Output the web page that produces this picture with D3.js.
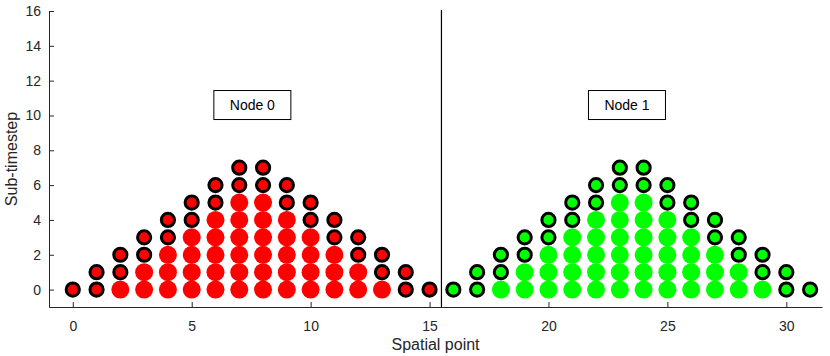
<!DOCTYPE html>
<html>
<head>
<meta charset="utf-8">
<script src="https://cdn.jsdelivr.net/npm/d3@7"></script>
<style>
  body { margin: 0; background: #fff; }
  svg { display: block; font-family: "Liberation Sans", Arial, sans-serif; }
</style>
</head>
<body>
<div id="chart"></div>
<script>
// spatial points per node and the highest sub-timestep reached at each
const node0Points = [0, 1, 2, 3, 4, 5, 6, 7, 8, 9, 10, 11, 12, 13, 14, 15];
const node0Heights = [0, 1, 2, 3, 4, 5, 6, 7, 7, 6, 5, 4, 3, 2, 1, 0];
const node1Points = [16, 17, 18, 19, 20, 21, 22, 23, 24, 25, 26, 27, 28, 29, 30, 31];
const node1Heights = [0, 1, 2, 3, 4, 5, 6, 7, 7, 6, 5, 4, 3, 2, 1, 0];
const nodeLabels = ['Node 0', 'Node 1'];
const nodeLabelX = [7.55, 23.3];
const nodeLabelY = [10.6, 10.6];
const nodeColors = ['#ff0000', '#00ff00'];
const xTicks = [0, 5, 10, 15, 20, 25, 30];
const yTicks = [0, 2, 4, 6, 8, 10, 12, 14, 16];
const nodeBoundary = 15.5;

function drawChart() {
    const width = 830, height = 356;
    const margin = { top: 11, right: 8, bottom: 49, left: 49 };

    const svg = d3.select('#chart').append('svg')
        .attr('width', width)
        .attr('height', height);

    const x = d3.scaleLinear()
        .domain([-1, 31.5])
        .range([margin.left, width - margin.right]);

    // 16 sits at the top of the axis, -1 at the bottom
    const y = d3.scaleLinear()
        .domain([-1, 16])
        .range([height - margin.bottom, margin.top]);

    // build the marker list from the heights
    const dots = [];
    [[node0Points, node0Heights, 0], [node1Points, node1Heights, 1]].forEach(([pts, hs, node]) => {
        pts.forEach((p, i) => {
            const h = hs[i];
            for (let s = 0; s <= h; s++) {
                dots.push({ x: p, y: s, node: node, edge: s >= h - 1 });
            }
        });
    });

    // filled interior points
    svg.append('g').selectAll('circle')
        .data(dots.filter(d => !d.edge))
        .enter().append('circle')
        .attr('cx', d => x(d.x))
        .attr('cy', d => y(d.y))
        .attr('r', 9)
        .attr('fill', d => nodeColors[d.node]);

    // outlined points on the two top rows
    svg.append('g').selectAll('circle')
        .data(dots.filter(d => d.edge))
        .enter().append('circle')
        .attr('cx', d => x(d.x))
        .attr('cy', d => y(d.y))
        .attr('r', 6.6)
        .attr('fill', d => nodeColors[d.node])
        .attr('stroke', '#000')
        .attr('stroke-width', 3);

    // node boundary
    svg.append('line')
        .attr('x1', x(nodeBoundary)).attr('x2', x(nodeBoundary))
        .attr('y1', y(16) - 1).attr('y2', y(-1))
        .attr('stroke', '#000')
        .attr('stroke-width', 1.2);

    // axes
    const xAxis = svg.append('g')
        .attr('transform', `translate(0,${y(-1)})`)
        .call(d3.axisBottom(x).tickValues(xTicks).tickSizeInner(-5).tickSizeOuter(0).tickPadding(14));
    const yAxis = svg.append('g')
        .attr('transform', `translate(${x(-1)},0)`)
        .call(d3.axisLeft(y).tickValues(yTicks).tickSizeInner(-5).tickSizeOuter(0).tickPadding(8));

    [xAxis, yAxis].forEach(g => {
        g.select('.domain').attr('stroke', '#262626');
        g.selectAll('.tick line').attr('stroke', '#262626');
        g.selectAll('.tick text')
            .attr('fill', '#262626')
            .style('font-size', '14px')
            .style('font-family', '"Liberation Sans", Arial, sans-serif');
    });

    // node labels in boxes
    nodeLabels.forEach((lab, i) => {
        const cx = x(nodeLabelX[i]), cy = y(nodeLabelY[i]);
        svg.append('rect')
            .attr('x', cx - 38.5).attr('y', cy - 14.5)
            .attr('width', 77).attr('height', 29)
            .attr('fill', '#fff')
            .attr('stroke', '#000')
            .attr('stroke-width', 1);
        svg.append('text')
            .attr('x', cx).attr('y', cy + 5)
            .attr('text-anchor', 'middle')
            .style('font-size', '14px')
            .attr('fill', '#000')
            .text(lab);
    });

    // axis titles
    svg.append('text')
        .attr('x', (x(-1) + x(31.5)) / 2)
        .attr('y', 350)
        .attr('text-anchor', 'middle')
        .style('font-size', '16px')
        .attr('fill', '#262626')
        .text('Spatial point');

    svg.append('text')
        .attr('transform', `translate(17,${(y(-1) + y(16)) / 2}) rotate(-90)`)
        .attr('text-anchor', 'middle')
        .style('font-size', '16px')
        .attr('fill', '#262626')
        .text('Sub-timestep');
}

document.addEventListener('DOMContentLoaded', drawChart);
</script>
</body>
</html>
